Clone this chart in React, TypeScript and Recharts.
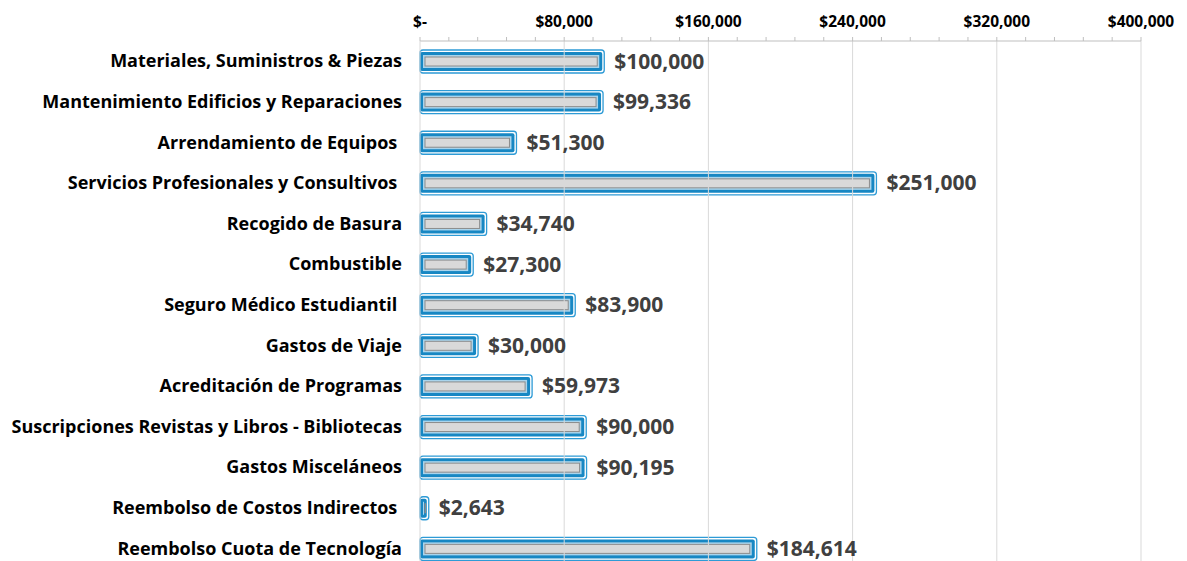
import React from 'react';
import { BarChart, Bar, XAxis, YAxis, ReferenceLine, LabelList } from 'recharts';

const categories = [
  'Materiales, Suministros & Piezas',
  'Mantenimiento Edificios y Reparaciones',
  'Arrendamiento de Equipos ',
  'Servicios Profesionales y Consultivos ',
  'Recogido de Basura',
  'Combustible',
  'Seguro Médico Estudiantil ',
  'Gastos de Viaje',
  'Acreditación de Programas',
  'Suscripciones Revistas y Libros - Bibliotecas',
  'Gastos Misceláneos',
  'Reembolso de Costos Indirectos ',
  'Reembolso Cuota de Tecnología',
];

const amounts = [100000, 99336, 51300, 251000, 34740, 27300, 83900, 30000, 59973, 90000, 90195, 2643, 184614];

const majorTicks = [0, 80000, 160000, 240000, 320000, 400000];
const minorTicks = [
  0, 16000, 32000, 48000, 64000, 80000, 96000, 112000, 128000, 144000, 160000, 176000, 192000, 208000, 224000,
  240000, 256000, 272000, 288000, 304000, 320000, 336000, 352000, 368000, 384000, 400000,
];

const data = categories.map((name, i) => ({ name, value: amounts[i] }));

const FONT = '"Open Sans", Lato, sans-serif';

const money = (v: number) => (v === 0 ? '$-' : '$' + v.toLocaleString('en-US'));

const XTick = (props: any) => {
  const { x, y, payload } = props;
  if (!majorTicks.includes(payload.value)) return null;
  return (
    <text x={x} y={y - 8} textAnchor="middle" fontFamily={FONT} fontWeight={700} fontSize={15.5} fill="#000">
      {money(payload.value)}
    </text>
  );
};

const YTick = (props: any) => {
  const { x, y, payload } = props;
  return (
    <text
      x={x}
      y={y}
      dy={6}
      textAnchor="end"
      fontFamily={FONT}
      fontWeight={700}
      fontSize={18}
      fill="#000"
      style={{ whiteSpace: 'pre' }}
    >
      {payload.value}
    </text>
  );
};

const FancyBar = (props: any) => {
  const { x, y, width, height } = props;
  const w = Math.max(width, 1);
  return (
    <g>
      <rect x={x} y={y} width={w + 4} height={height} rx={3} fill="#fff" stroke="#2e9bd6" strokeWidth={1.3} />
      <rect x={x} y={y + 2} width={w + 2} height={height - 4} rx={2} fill="#1787c3" />
      <rect x={x + 3} y={y + 5} width={Math.max(w - 4, 1)} height={height - 10} fill="#a9d4ec" />
      <rect
        x={x + 5}
        y={y + 7}
        width={Math.max(w - 8, 0.5)}
        height={height - 14}
        fill="#d9d9d9"
        stroke="#8c8c8c"
        strokeWidth={1}
      />
    </g>
  );
};

const ValueLabel = (props: any) => {
  const { x, y, width, height, value } = props;
  return (
    <text
      x={x + width + 14}
      y={y + height / 2}
      dy={7}
      fontFamily={FONT}
      fontWeight={700}
      fontSize={21}
      fill="#404040"
    >
      {money(value)}
    </text>
  );
};

export default function App() {
  return (
    <div style={{ position: 'absolute', left: 0, top: 0, width: 1187, height: 561, overflow: 'hidden', background: '#fff' }}>
      <BarChart
        width={1187}
        height={569}
        data={data}
        layout="vertical"
        margin={{ top: 11, right: 46, bottom: 0, left: 0 }}
        barSize={23}
      >
        <XAxis
          type="number"
          orientation="top"
          domain={[0, 400000]}
          ticks={minorTicks}
          interval={0}
          height={30}
          tick={<XTick />}
          tickLine={{ stroke: '#bfbfbf' }}
          tickSize={4}
          axisLine={{ stroke: '#bfbfbf' }}
        />
        <YAxis
          type="category"
          dataKey="name"
          width={420}
          tick={<YTick />}
          tickLine={false}
          tickMargin={12}
          axisLine={{ stroke: '#d9d9d9' }}
          interval={0}
        />
        {majorTicks.slice(1).map((v) => (
          <ReferenceLine key={v} x={v} stroke="#d9d9d9" strokeWidth={1} />
        ))}
        <Bar dataKey="value" shape={<FancyBar />} isAnimationActive={false}>
          <LabelList dataKey="value" content={<ValueLabel />} />
        </Bar>
      </BarChart>
    </div>
  );
}
